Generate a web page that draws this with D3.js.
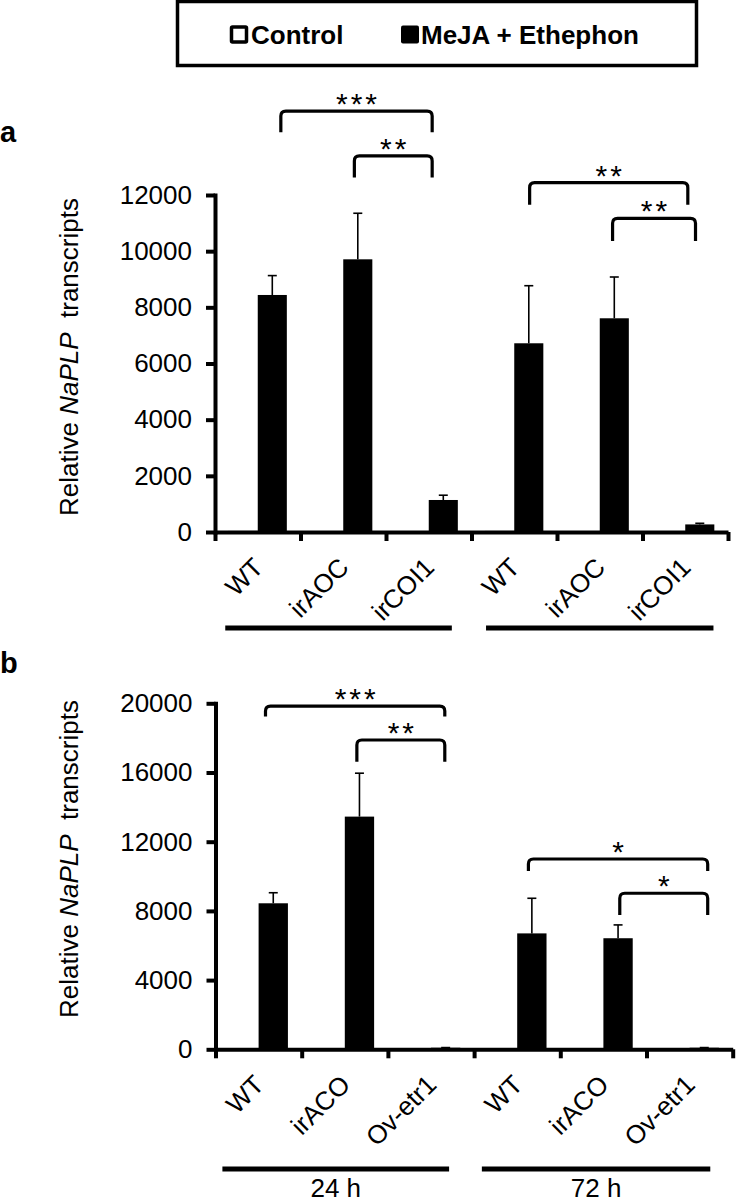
<!DOCTYPE html>
<html>
<head>
<meta charset="utf-8">
<script src="https://cdn.jsdelivr.net/npm/d3@7"></script>
<style>
  body { margin: 0; background: #fff; }
  svg { display: block; font-family: 'Liberation Sans', Arial, sans-serif; }
  .axis path, .axis line { stroke: #000; stroke-width: 4px; }
</style>
</head>
<body>
<script>
// ---- data ----
const legendLabels = ['Control', 'MeJA + Ethephon'];

const genotypesA = ['WT', 'irAOC', 'irCOI1', 'WT', 'irAOC', 'irCOI1'];
const controlA = [30, 25, 20, 30, 25, 20];
const treatedA = [8440, 9710, 1140, 6720, 7610, 270];
const treatedErrA = [690, 1640, 170, 2050, 1470, 40];
const ticksA = [0, 2000, 4000, 6000, 8000, 10000, 12000];

const genotypesB = ['WT', 'irACO', 'Ov-etr1', 'WT', 'irACO', 'Ov-etr1'];
const controlB = [20, 20, 20, 20, 20, 20];
const treatedB = [8440, 13450, 90, 6700, 6420, 90];
const treatedErrB = [610, 2510, 10, 2030, 770, 10];
const ticksB = [0, 4000, 8000, 12000, 16000, 20000];

const timeLabels = ['24 h', '72 h'];

// significance brackets: ends in group units, top / leg end in value units
const bracketsA = [
  { from: 0.77, to: 2.54, top: 14990, leg: 14230, label: '***' },
  { from: 1.63, to: 2.54, top: 13390, leg: 12620, label: '**' },
  { from: 3.68, to: 5.53, top: 12440, leg: 11650, label: '**' },
  { from: 4.65, to: 5.62, top: 11170, leg: 10360, label: '**' }
];
const bracketsB = [
  { from: 0.58, to: 2.66, top: 19840, leg: 19230, label: '***' },
  { from: 1.64, to: 2.66, top: 17880, leg: 16620, label: '**' },
  { from: 3.63, to: 5.71, top: 11000, leg: 10310, label: '*' },
  { from: 4.69, to: 5.71, top: 9020, leg: 7760, label: '*' }
];

// group lines under the labels, in group units
const spansA = [[0.12, 2.77], [3.17, 5.83]];
const spansB = [[0.08, 2.71], [3.09, 5.74]];

// ---- drawing ----
const width = 738;
const height = 1203;
const svg = d3.select('body').append('svg')
  .attr('width', width)
  .attr('height', height)
  .attr('viewBox', [0, 0, width, height]);

// legend box
const legend = svg.append('g');
legend.append('rect')
  .attr('x', 177.5).attr('y', 1.5).attr('width', 519).attr('height', 64)
  .attr('fill', 'none').attr('stroke', '#000').attr('stroke-width', 3.5);
legend.append('rect')
  .attr('x', 231.5).attr('y', 27).attr('width', 15).attr('height', 15)
  .attr('fill', '#fff').attr('stroke', '#000').attr('stroke-width', 3.5).attr('rx', 1);
legend.append('rect')
  .attr('x', 401).attr('y', 25.5).attr('width', 18).attr('height', 18)
  .attr('fill', '#000').attr('rx', 2);
legend.selectAll('text.leg')
  .data(legendLabels)
  .join('text')
  .attr('class', 'leg')
  .attr('x', (d, i) => i === 0 ? 251 : 421)
  .attr('y', 43.5)
  .attr('font-size', 26)
  .attr('font-weight', 'bold')
  .text((d) => d);

const drawPanel = (cfg) => {
  const { genotypes, control, treated, treatedErr, ticks, brackets, spans, periods } = cfg;
  const g = svg.append('g');

  const x = d3.scaleBand()
    .domain(d3.range(genotypes.length))
    .range(cfg.xRange)
    .padding(0);
  const xs = d3.scaleBand()
    .domain(['control', 'treated'])
    .range([0, x.bandwidth()])
    .paddingInner(0)
    .paddingOuter(0.47);
  // continuous version of the group axis, for brackets and lines
  const xg = d3.scaleLinear().domain([0, genotypes.length]).range(cfg.xRange);
  const y = d3.scaleLinear().domain([0, d3.max(ticks)]).range(cfg.yRange);

  const rows = genotypes.map((name, i) => ({
    i, name, control: control[i], treated: treated[i], err: treatedErr[i]
  }));

  // panel letter
  g.append('text')
    .attr('x', 0).attr('y', cfg.letterY)
    .attr('font-size', 29).attr('font-weight', 'bold')
    .text(cfg.letter);

  // control bars
  g.append('g').selectAll('rect')
    .data(rows)
    .join('rect')
    .attr('x', (d) => x(d.i) + xs('control'))
    .attr('y', (d) => y(d.control))
    .attr('width', xs.bandwidth())
    .attr('height', (d) => y(0) - y(d.control))
    .attr('fill', '#fff')
    .attr('stroke', '#999')
    .attr('stroke-width', 0.6);

  // treated bars
  g.append('g').selectAll('rect')
    .data(rows)
    .join('rect')
    .attr('x', (d) => x(d.i) + xs('treated'))
    .attr('y', (d) => y(d.treated))
    .attr('width', xs.bandwidth())
    .attr('height', (d) => y(0) - y(d.treated))
    .attr('fill', '#000');

  // error bars (upper only)
  const eb = g.append('g').attr('stroke', '#000').attr('stroke-width', 1.6);
  const cx = (d) => x(d.i) + xs('treated') + xs.bandwidth() / 2;
  eb.selectAll('line.v')
    .data(rows)
    .join('line')
    .attr('class', 'v')
    .attr('x1', cx).attr('x2', cx)
    .attr('y1', (d) => y(d.treated))
    .attr('y2', (d) => y(d.treated + d.err));
  eb.selectAll('line.cap')
    .data(rows)
    .join('line')
    .attr('class', 'cap')
    .attr('x1', (d) => cx(d) - 4.5).attr('x2', (d) => cx(d) + 4.5)
    .attr('y1', (d) => y(d.treated + d.err))
    .attr('y2', (d) => y(d.treated + d.err));

  // y axis
  const gy = g.append('g')
    .attr('class', 'axis')
    .attr('transform', `translate(${cfg.xRange[0]},0)`)
    .call(d3.axisLeft(y).tickValues(ticks).tickSize(9).tickPadding(14).tickSizeOuter(0).tickFormat(d3.format('d')));
  gy.select('.domain').style('stroke-linecap', 'square');
  gy.selectAll('.tick text')
    .attr('font-size', 26)
    .attr('font-family', "'Liberation Sans', Arial, sans-serif")
    .attr('fill', '#000');

  // x axis: ticks between groups
  g.append('g')
    .attr('class', 'axis')
    .attr('transform', `translate(0,${cfg.yRange[0]})`)
    .call(d3.axisBottom(xg).tickValues(d3.range(genotypes.length + 1)).tickSize(9).tickSizeOuter(0).tickFormat(''));

  // rotated genotype labels
  g.append('g').selectAll('text')
    .data(rows)
    .join('text')
    .attr('transform', (d) => `translate(${x(d.i) + x.bandwidth() / 2 + 7},${cfg.yRange[0] + 37}) rotate(-45)`)
    .attr('text-anchor', 'end')
    .attr('font-size', 26)
    .text((d) => d.name);

  // y axis title
  const title = g.append('text')
    .attr('transform', `translate(78,${cfg.titleY}) rotate(-90)`)
    .attr('text-anchor', 'middle')
    .attr('font-size', 26)
    .style('white-space', 'pre');
  title.append('tspan').text('Relative ');
  title.append('tspan').attr('font-style', 'italic').text('NaPLP');
  title.append('tspan').text('  transcripts');

  // group lines
  g.append('g').selectAll('line')
    .data(spans)
    .join('line')
    .attr('x1', (d) => xg(d[0])).attr('x2', (d) => xg(d[1]))
    .attr('y1', cfg.spanY).attr('y2', cfg.spanY)
    .attr('stroke', '#000').attr('stroke-width', 5);

  if (periods) {
    g.append('g').selectAll('text')
      .data(periods)
      .join('text')
      .attr('x', (d, i) => xg((spans[i][0] + spans[i][1]) / 2))
      .attr('y', cfg.spanY + 28)
      .attr('text-anchor', 'middle')
      .attr('font-size', 26)
      .text((d) => d);
  }

  // significance brackets
  const r = 5;
  const bracketPath = (b) => {
    const x1 = xg(b.from), x2 = xg(b.to), yt = y(b.top), yl = y(b.leg);
    return `M${x1},${yl}V${yt + r}Q${x1},${yt} ${x1 + r},${yt}H${x2 - r}Q${x2},${yt} ${x2},${yt + r}V${yl}`;
  };
  const gb = g.append('g');
  gb.selectAll('path')
    .data(brackets)
    .join('path')
    .attr('d', bracketPath)
    .attr('fill', 'none')
    .attr('stroke', '#000')
    .attr('stroke-width', 3.2);
  gb.selectAll('text')
    .data(brackets)
    .join('text')
    .attr('x', (b) => xg((b.from + b.to) / 2) + 1.5)
    .attr('y', (b) => y(b.top) + 3)
    .attr('text-anchor', 'middle')
    .attr('font-size', 30)
    .attr('letter-spacing', 3)
    .text((b) => b.label);
};

drawPanel({
  letter: 'a', letterY: 142,
  genotypes: genotypesA, control: controlA, treated: treatedA, treatedErr: treatedErrA,
  ticks: ticksA, brackets: bracketsA, spans: spansA, periods: null,
  xRange: [215, 728], yRange: [532, 195], titleY: 357, spanY: 628
});

drawPanel({
  letter: 'b', letterY: 673,
  genotypes: genotypesB, control: controlB, treated: treatedB, treatedErr: treatedErrB,
  ticks: ticksB, brackets: bracketsB, spans: spansB, periods: timeLabels,
  xRange: [215.5, 732.7], yRange: [1049.3, 703.3], titleY: 859, spanY: 1169
});
</script>
</body>
</html>
